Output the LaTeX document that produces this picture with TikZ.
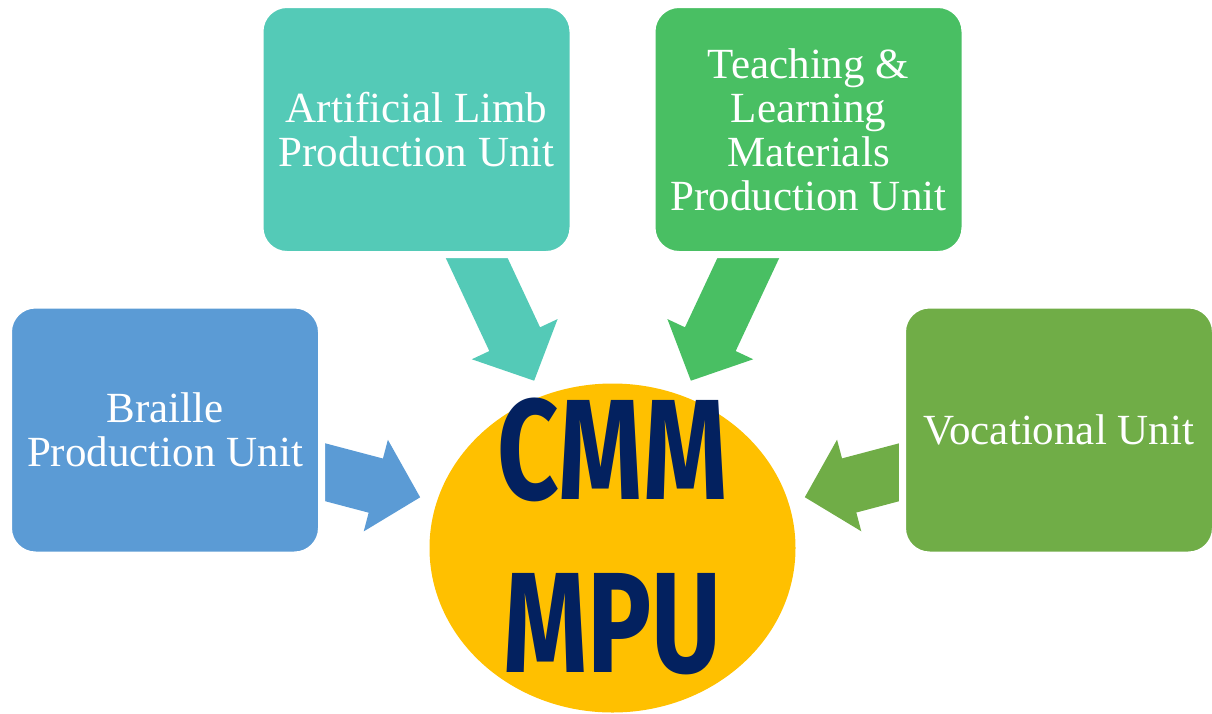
\documentclass[tikz,border=0pt]{standalone}
\usepackage{fontspec}
\setmainfont{Liberation Serif}
\newfontfamily\logofont{Fira Sans}[FakeStretch=0.75]
\usetikzlibrary{arrows.meta, shapes.geometric, positioning}
\pgfdeclarelayer{background}
\pgfsetlayers{background,main}
\definecolor{brailleblue}{HTML}{5B9BD5}
\definecolor{limbteal}{HTML}{54CAB7}
\definecolor{teachgreen}{HTML}{49BF63}
\definecolor{vocgreen}{HTML}{70AD47}
\definecolor{mpuyellow}{HTML}{FFC000}
\definecolor{cmmnavy}{HTML}{03215F}
\tikzset{
  unitbox/.style={draw=white, line width=7pt, rounded corners=27pt, minimum width=313pt, minimum height=250pt,
    inner sep=0pt, align=center, text=white, font=\fontsize{43}{44}\selectfont},
  bigarrow/.style={line width=56pt, shorten >=17pt, -{Triangle[width=92pt, length=46pt]}},
  logotext/.style={align=center, text=cmmnavy, font=\logofont\bfseries\fontsize{143}{173}\selectfont}
}

\begin{document}
\begin{tikzpicture}[x=1pt, y=-1pt]
\useasboundingbox (0,0) rectangle (1212,713);
\draw
    node [unitbox, fill=brailleblue] (braille) at (165,430) {Braille\\Production Unit}
    node [unitbox, fill=limbteal] (limb) at (416.5,129.5) {Artificial Limb\\Production Unit}
    node [unitbox, fill=teachgreen] (teaching) at (808.5,129.5) {Teaching \&\\Learning\\Materials\\Production Unit}
    node [unitbox, fill=vocgreen] (vocational) at (1059,430) {Vocational Unit}
    node [ellipse, fill=mpuyellow, minimum width=366pt, minimum height=329pt, inner sep=0pt,
          label={[logotext, yshift=12pt]center:{CMM\\MPU}}] (mpu) at (612.5,548) {}
;
\begin{pgfonlayer}{background}
\draw[bigarrow, brailleblue] (braille.center) -- (mpu);
\draw[bigarrow, limbteal] (limb.center) -- (mpu);
\draw[bigarrow, teachgreen] (teaching.center) -- (mpu);
\draw[bigarrow, vocgreen] (vocational.center) -- (mpu);
\end{pgfonlayer}
\end{tikzpicture}
\end{document}
